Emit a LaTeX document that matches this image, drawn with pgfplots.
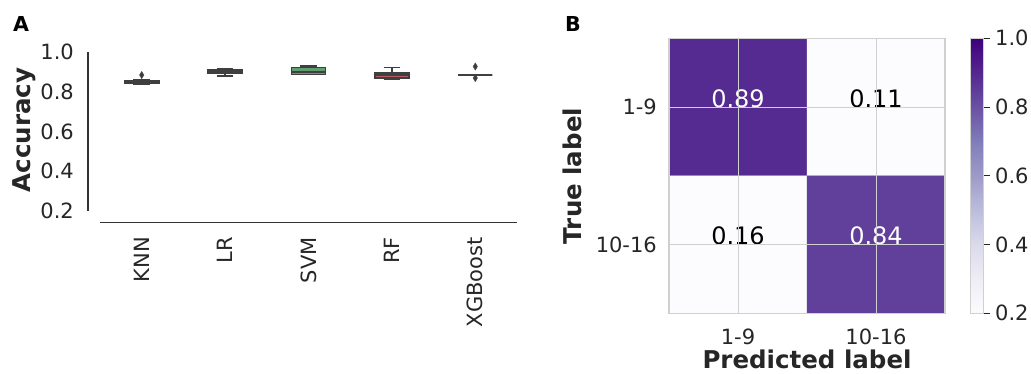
\documentclass[border=0pt]{standalone}
\usepackage{fontspec}
\setmainfont{DejaVu Sans}
\usepackage{pgfplots}
\pgfplotsset{compat=1.18}
\usepgfplotslibrary{statistics}
\definecolor{cknn}{HTML}{5975A4}
\definecolor{clr}{HTML}{CC8963}
\definecolor{csvm}{HTML}{5F9E6E}
\definecolor{crf}{HTML}{B55D60}
\definecolor{cxgb}{HTML}{857AAB}
\definecolor{edge}{HTML}{3F3F3F}
\definecolor{spinec}{HTML}{333333}
\definecolor{gridc}{HTML}{D0D0D0}
\definecolor{txt}{HTML}{262626}
\newcommand\tickfont{\fontsize{21}{25}\selectfont}
\newcommand\labfont{\fontsize{24.5}{29}\selectfont\bfseries}
\begin{document}
\begin{tikzpicture}[x=1pt,y=1pt]
\useasboundingbox (0,0) rectangle (1031,373);
% ---------------- Panel A ----------------
\begin{axis}[
  at={(100pt,150.5pt)}, anchor=south west,
  scale only axis, width=417pt, height=170.5pt,
  xmin=-0.5, xmax=4.5, ymin=0.142, ymax=1.0,
  axis line style={draw=none}, major tick length=0pt,
  xtick={0,1,2,3,4}, xticklabels={KNN,LR,SVM,RF,XGBoost},
  ytick={0.2,0.4,0.6,0.8,1.0},
  yticklabel={\pgfmathprintnumber[fixed,fixed zerofill,precision=1,assume math mode=true]{\tick}},
  ticklabel style={font=\tickfont, inner sep=0pt, text=txt},
  xticklabel style={rotate=90, anchor=east},
  xticklabel shift=14.5pt, yticklabel shift=26pt,
  boxplot/draw direction=y,
  clip=false,
]
\addplot[boxplot prepared={draw position=0, lower whisker=0.840, lower quartile=0.844, median=0.850, upper quartile=0.857, upper whisker=0.858, box extend=0.41, whisker extend=0.2}, fill=cknn, draw=edge, line width=1.5pt] coordinates {};
\addplot[boxplot prepared={draw position=1, lower whisker=0.878, lower quartile=0.895, median=0.905, upper quartile=0.912, upper whisker=0.916, box extend=0.41, whisker extend=0.2}, fill=clr, draw=edge, line width=1.5pt] coordinates {};
\addplot[boxplot prepared={draw position=2, lower whisker=0.887, lower quartile=0.887, median=0.899, upper quartile=0.922, upper whisker=0.929, box extend=0.41, whisker extend=0.2}, fill=csvm, draw=edge, line width=1.5pt] coordinates {};
\addplot[boxplot prepared={draw position=3, lower whisker=0.862, lower quartile=0.870, median=0.884, upper quartile=0.895, upper whisker=0.922, box extend=0.41, whisker extend=0.2}, fill=crf, draw=edge, line width=1.5pt] coordinates {};
\addplot[boxplot prepared={draw position=4, lower whisker=0.885, lower quartile=0.885, median=0.885, upper quartile=0.885, upper whisker=0.885, box extend=0.41, whisker extend=0.2}, fill=cxgb, draw=edge, line width=1.5pt] coordinates {};
\addplot[only marks, mark=diamond*, mark size=3.6pt, mark options={fill=edge, draw=edge, xscale=0.8}] coordinates {(0,0.884) (4,0.927) (4,0.869)};
\draw[spinec, line width=1.3pt] ([xshift=-12pt]axis cs:-0.5,0.2) -- ([xshift=-12pt]axis cs:-0.5,1.0);
\draw[spinec, line width=1.3pt] (axis cs:-0.5,0.142) -- (axis cs:4.5,0.142);
\end{axis}
% ---------------- Panel B ----------------
\begin{axis}[
  at={(669pt,59.7pt)}, anchor=south west,
  scale only axis, width=276pt, height=275pt,
  xmin=-0.5, xmax=1.5, ymin=-0.5, ymax=1.5, y dir=reverse,
  xtick={0,1}, ytick={0,1},
  xticklabels={1-9,10-16}, yticklabels={1-9,10-16},
  major tick length=0pt,
  grid=major, grid style={draw=gridc, line width=1pt},
  axis line style={draw=gridc, line width=1.2pt},
  axis on top,
  ticklabel style={font=\tickfont, inner sep=0pt, text=txt},
  xticklabel shift=15pt, yticklabel shift=12pt,
  colormap={purples}{rgb255=(252,251,253) rgb255=(239,237,245) rgb255=(218,218,235) rgb255=(188,189,220) rgb255=(158,154,200) rgb255=(128,125,186) rgb255=(106,81,163) rgb255=(84,39,143) rgb255=(63,0,125)},
  point meta min=0.2, point meta max=1.0,
  colorbar,
  colorbar shift/.style={xshift=25pt},
  colorbar style={
    width=13pt,
    at={(parent axis.north east)}, anchor=north west,
    ytick={0.2,0.4,0.6,0.8,1.0},
    yticklabel={\pgfmathprintnumber[fixed,fixed zerofill,precision=1,assume math mode=true]{\tick}},
    ytick pos=right,
    major tick length=7pt, tick align=outside,
    tick style={draw=txt, line width=1pt},
    axis line style={draw=gridc, line width=0.8pt},
    yticklabel style={font=\tickfont, inner sep=0pt, text=txt},
    yticklabel shift=5pt,
  },
  clip=false,
]
\addplot[matrix plot*, mesh/cols=2, point meta=explicit] table[meta=c] {
x y c
0 0 0.89
1 0 0.11
0 1 0.16
1 1 0.84
};
\node[anchor=base, font=\fontsize{24}{28}\selectfont, text=white] at (axis cs:0,0) {0.89};
\node[anchor=base, font=\fontsize{24}{28}\selectfont, text=black] at (axis cs:1,0) {0.11};
\node[anchor=base, font=\fontsize{24}{28}\selectfont, text=black] at (axis cs:0,1) {0.16};
\node[anchor=base, font=\fontsize{24}{28}\selectfont, text=white] at (axis cs:1,1) {0.84};
\end{axis}
% ---------------- Labels ----------------
\node[rotate=90, anchor=base, inner sep=0pt, font=\labfont, text=txt] at (31,243) {Accuracy};
\node[rotate=90, anchor=base, inner sep=0pt, font=\labfont, text=txt] at (581,197) {True label};
\node[anchor=base, inner sep=0pt, font=\labfont, text=txt] at (807,5) {Predicted label};
\node[anchor=base west, inner sep=0pt, font=\fontsize{20.6}{24}\selectfont\bfseries, text=black] at (13,341) {A};
\node[anchor=base west, inner sep=0pt, font=\fontsize{20.6}{24}\selectfont\bfseries, text=black] at (565,341) {B};
\end{tikzpicture}
\end{document}
